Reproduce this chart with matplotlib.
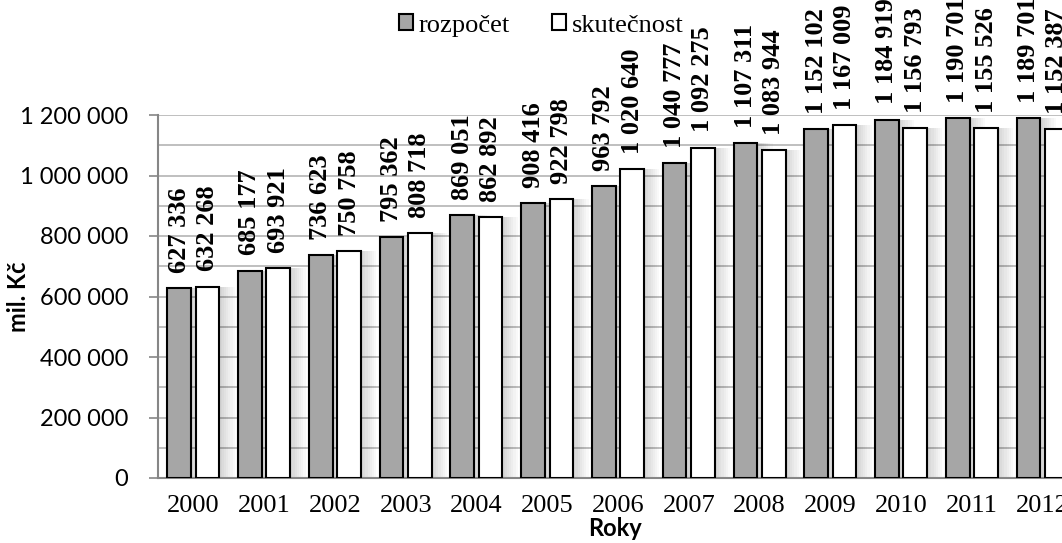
import matplotlib
matplotlib.use("Agg")
import matplotlib.pyplot as plt
from matplotlib.ticker import MultipleLocator, FuncFormatter
import numpy as np

# Budget vs. actual, million CZK
years = ["2000", "2001", "2002", "2003", "2004", "2005", "2006",
         "2007", "2008", "2009", "2010", "2011", "2012"]
rozpocet = [627336, 685177, 736623, 795362, 869051, 908416, 963792,
            1040777, 1107311, 1152102, 1184919, 1190701, 1189701]
skutecnost = [632268, 693921, 750758, 808718, 862892, 922798, 1020640,
              1092275, 1083944, 1167009, 1156793, 1155526, 1152387]

SERIF = "Liberation Serif"
SANS = "Lato"


def fmt(v):
    return f"{int(v):,}".replace(",", " ")


fig = plt.figure(figsize=(10.62, 5.43), dpi=100)
ax = fig.add_axes([158 / 1062, 1 - 478 / 543, 920 / 1062, 363 / 543])

x = np.arange(len(years))
w = 0.335
off = 0.2

# soft shadow to the right of every bar
px = 13 / 920
for k in range(1, 8):
    for xs, vals in ((x - off, rozpocet), (x + off, skutecnost)):
        ax.bar(xs + k * 2.2 * px, vals, w, color="black", alpha=0.022,
               linewidth=0, zorder=1)

b1 = ax.bar(x - off, rozpocet, w, color="#a6a6a6", edgecolor="black",
            linewidth=1.5, label="rozpočet", zorder=3)
b2 = ax.bar(x + off, skutecnost, w, color="white", edgecolor="black",
            linewidth=1.5, label="skutečnost", zorder=3)

for bars, vals in ((b1, rozpocet), (b2, skutecnost)):
    for r, v in zip(bars, vals):
        ax.annotate(fmt(v), (r.get_x() + r.get_width() / 2, v),
                    xytext=(0, 11), textcoords="offset points",
                    rotation=90, ha="center", va="bottom",
                    fontsize=19, fontweight="bold", family=SERIF,
                    annotation_clip=False, zorder=5)

ax.set_xlim(-0.5, len(years) - 0.5)
ax.set_ylim(0, 1200000)
ax.yaxis.set_major_locator(MultipleLocator(200000))
ax.yaxis.set_minor_locator(MultipleLocator(100000))
ax.yaxis.set_major_formatter(FuncFormatter(lambda v, p: fmt(v)))
ax.grid(axis="y", which="both", color="#b4b4b4", linewidth=1.2, zorder=0)
ax.set_axisbelow(True)

ax.set_xticks(x)
ax.set_xticklabels(years, family=SERIF, fontsize=19)
ax.tick_params(axis="x", length=0, pad=12)
ax.tick_params(axis="y", which="major", length=6.5, width=1.2,
               color="#868686", pad=15, labelsize=17)
ax.tick_params(axis="y", which="minor", length=0)
for t in ax.get_yticklabels():
    t.set_family(SANS)

for s in ("top", "right"):
    ax.spines[s].set_visible(False)
for s in ("left", "bottom"):
    ax.spines[s].set_color("#868686")
    ax.spines[s].set_linewidth(1.5)

fig.text(19 / 1062, 1 - 297 / 543, "mil. Kč", rotation=90, ha="center",
         va="center", fontsize=17, fontweight="bold", family=SANS)
fig.text(615 / 1062, 1 - 529 / 543, "Roky", ha="center", va="center",
         fontsize=17, fontweight="bold", family=SANS)

fig.legend(handles=[b1, b2], loc="center", bbox_to_anchor=(541 / 1062, 0.953),
           ncol=2, frameon=False, prop={"family": SERIF, "size": 19},
           handlelength=0.55, handleheight=0.55, handletextpad=0.2,
           columnspacing=1.6, borderpad=0)

fig.savefig("out.png", dpi=100)
